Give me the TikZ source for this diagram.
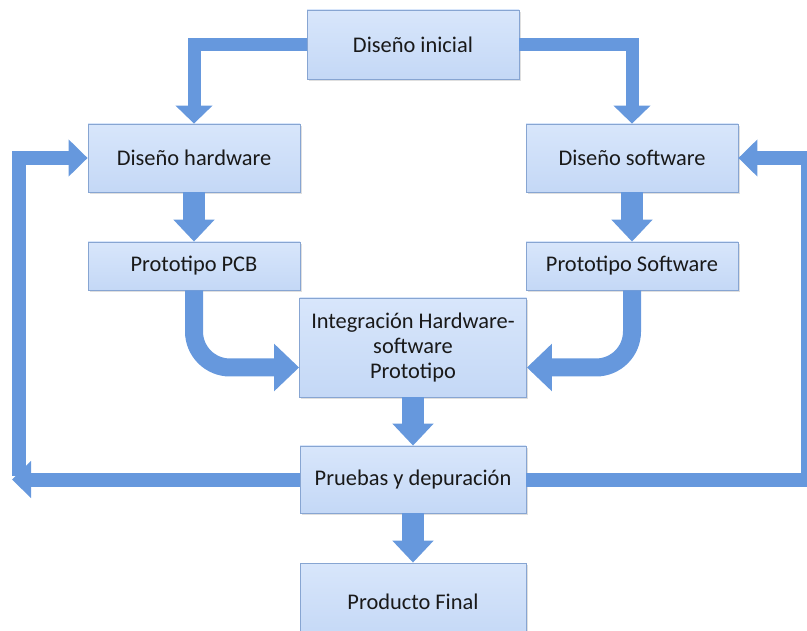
\documentclass[tikz,border=0pt]{standalone}
\usepackage{fontspec}
\setmainfont{Carlito}
\usepackage{xcolor}
\usetikzlibrary{arrows.meta,shadows}
\definecolor{cajaarriba}{RGB}{216,230,251}
\definecolor{cajaabajo}{RGB}{196,216,246}
\definecolor{cajaborde}{RGB}{135,165,210}
\definecolor{flecha}{RGB}{102,152,221}
\definecolor{texto}{RGB}{25,25,25}

\begin{document}
\begin{tikzpicture}[x=1pt,y=-1pt,
            caja/.style={shape=rectangle, draw=cajaborde, line width=0.8pt,
                top color=cajaarriba, bottom color=cajaabajo, text=texto,
                minimum width=212pt, align=center,
                font=\fontsize{22.4}{25}\selectfont,
                drop shadow={opacity=0.25, shadow xshift=1.5pt, shadow yshift=-2pt}},
            codo/.style={line width=13pt, draw=flecha, -{Triangle[width=36pt,length=18pt]}},
            baja/.style={line width=22pt, draw=flecha, -{Triangle[width=40pt,length=22pt]}},
            curva/.style={line width=18pt, draw=flecha, rounded corners=36pt, -{Triangle[width=46pt,length=25pt]}},
            vuelta/.style={line width=14pt, draw=flecha, -{Triangle[width=36pt,length=19pt]}}]
        \useasboundingbox (0,0) rectangle (807,631);
        \clip (0,0) rectangle (807,631);

        \node[caja, minimum height=69pt] (inicial) at (413,44.5) {Diseño inicial};
        \node[caja, minimum height=68pt] (hardware) at (194,158) {Diseño hardware};
        \node[caja, minimum height=68pt] (software) at (632,158) {Diseño software};
        \node[caja, minimum height=48pt] (pcb) at (194,266) {Prototipo PCB};
        \node[caja, minimum height=48pt] (protosw) at (632,266) {Prototipo Software};
        \node[caja, minimum width=227pt, minimum height=99pt] (integracion) at (413,347.5) {Integración Hardware-\\software\\Prototipo};
        \node[caja, minimum width=226pt, minimum height=67pt] (pruebas) at (413,479.5) {Pruebas y depuración};
        \node[caja, minimum width=226pt, minimum height=77pt] (final) at (413,601.5) {Producto Final};

        \coordinate (izq) at (12,479.5);
        \coordinate (der) at (828,479.5);

        \draw[codo] (inicial.west) -| (hardware.north);
        \draw[codo] (inicial.east) -| (software.north);

        \draw[baja] (hardware) -- (pcb);
        \draw[baja] (software) -- (protosw);
        \draw[curva] (pcb.south) |- ([yshift=-20pt]integracion.west);
        \draw[curva] (protosw.south) |- ([yshift=-20pt]integracion.east);
        \draw[baja] (integracion) -- (pruebas);
        \draw[baja] (pruebas) -- (final);

        \draw[vuelta] (18.5,476) |- (hardware.west);
        \draw[vuelta] (808,476) |- (software.east);
        \draw[vuelta] (pruebas.west) -- (izq);
        \draw[vuelta] (pruebas.east) -- (der);
\end{tikzpicture}
\end{document}
